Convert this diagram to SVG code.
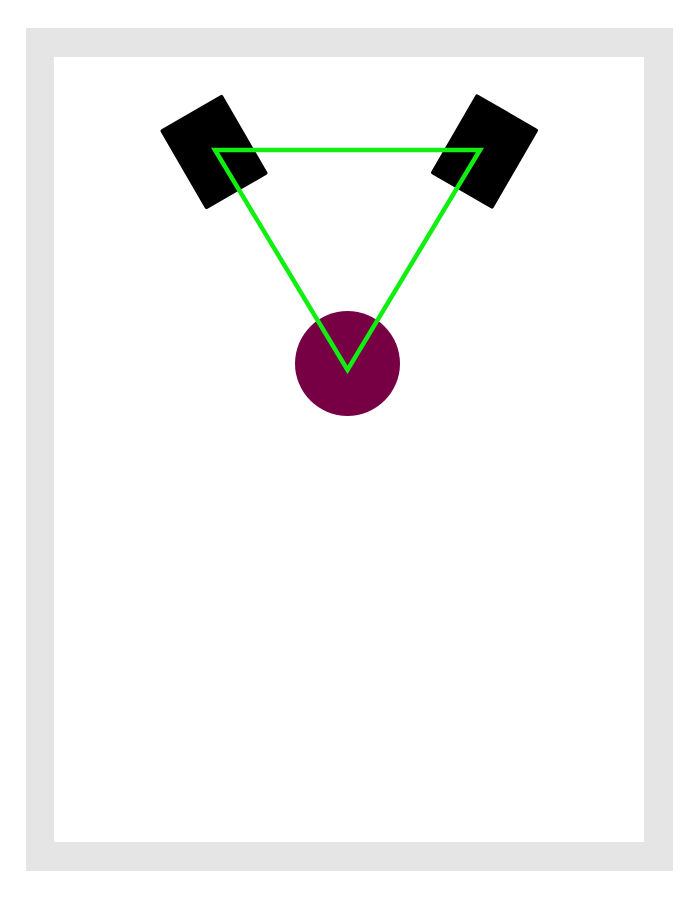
<svg xmlns="http://www.w3.org/2000/svg" width="700" height="902" viewBox="0 0 700 902">
  <style>
    .speaker { fill: #000000; }
    .listener { fill: #770044; }
    .sight { fill: none; stroke: #11ee11; stroke-width: 4.5; stroke-linejoin: miter; }
  </style>
  <rect x="0" y="0" width="700" height="902" fill="#ffffff"/>
  <g id="room">
    <rect x="26" y="28" width="647" height="843" fill="#e5e5e5"/>
    <rect x="54" y="57" width="590" height="785" fill="#ffffff"/>
  </g>
  <g id="speaker-left">
    <rect class="speaker" x="-36" y="-46" width="72" height="92" rx="2" transform="translate(214 152) rotate(-30)"/>
  </g>
  <g id="speaker-right">
    <rect class="speaker" x="-36" y="-46" width="72" height="92" rx="2" transform="translate(484.5 151.5) rotate(30)"/>
  </g>
  <g id="listener">
    <circle class="listener" cx="347.5" cy="363.5" r="52.5"/>
  </g>
  <g id="connectors">
    <polygon class="sight" points="215,150 480,150 347.5,370"/>
  </g>
</svg>
